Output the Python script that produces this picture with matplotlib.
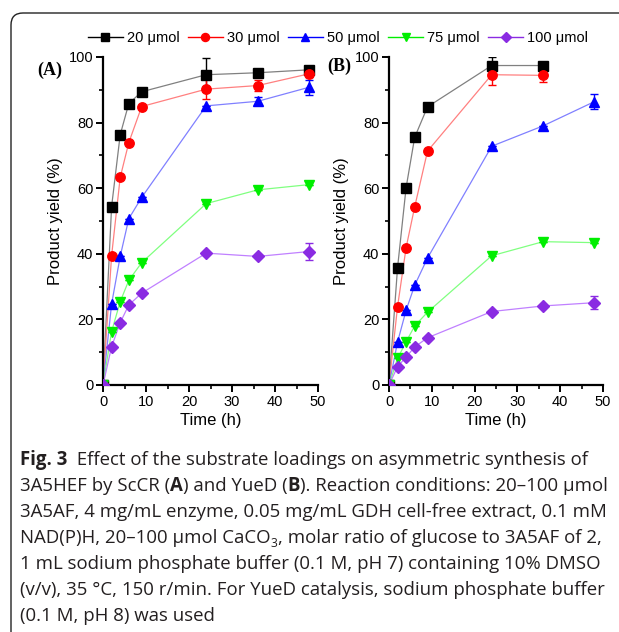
import matplotlib
matplotlib.use("Agg")
import matplotlib.pyplot as plt
from matplotlib.ticker import MultipleLocator
from matplotlib.path import Path
from matplotlib.patches import PathPatch

# ---------------- data ----------------
time_h = [0, 2, 4, 6, 9, 24, 36, 48]
series_labels = ["20 μmol", "30 μmol", "50 μmol", "75 μmol", "100 μmol"]

A_20 = [0, 54.4, 76.3, 85.8, 89.4, 94.6, 95.2, 96.1]
A_30 = [0, 39.4, 63.3, 73.9, 84.9, 90.2, 91.3, 94.9]
A_50 = [0, 24.7, 39.2, 50.7, 57.2, 85.1, 86.5, 90.8]
A_75 = [0, 16.3, 25.4, 31.9, 37.3, 55.3, 59.5, 61.1]
A_100 = [0, 11.7, 19.0, 24.4, 28.0, 40.2, 39.2, 40.7]
A_20_err = [0, 0, 0, 0, 0, 5.0, 0, 0.8]
A_30_err = [0, 0, 0, 0, 0, 3.0, 1.8, 1.0]
A_50_err = [0, 0, 0, 0, 0, 0, 1.2, 2.3]
A_75_err = [0, 0, 0, 0, 0, 0, 0, 0]
A_100_err = [0, 0, 0, 0, 0, 0, 0, 2.5]

time_B20 = [0, 2, 4, 6, 9, 24, 36]
B_20 = [0, 35.8, 60.2, 75.5, 84.8, 97.4, 97.4]
B_30 = [0, 23.9, 41.9, 54.3, 71.3, 94.6, 94.4]
B_50 = [0, 13.1, 22.8, 30.4, 38.7, 72.8, 79.0, 86.4]
B_75 = [0, 8.1, 13.2, 18.0, 22.2, 39.4, 43.7, 43.4]
B_100 = [0, 5.6, 8.5, 11.6, 14.4, 22.4, 24.1, 25.1]
B_20_err = [0, 0, 0, 0, 0, 2.5, 0]
B_30_err = [0, 0, 0, 0, 0, 3.0, 2.0]
B_50_err = [0, 0, 0, 0, 0, 0, 0, 2.2]
B_75_err = [0, 0, 0, 0, 0, 0, 0, 0]
B_100_err = [0, 0, 0, 0, 0, 0, 0, 2.0]

marker_colors = ["#000000", "#ff0000", "#0000ff", "#00ee00", "#8a2be2"]
line_colors = ["#808080", "#ff8080", "#8080ff", "#80ff80", "#c080ff"]
markers = ["s", "o", "^", "v", "D"]
msizes = [6.5, 6.8, 6.8, 6.8, 5.8]

plt.rcParams["font.family"] = ["Liberation Sans", "DejaVu Sans"]

fig = plt.figure(figsize=(6.19, 6.32), dpi=100)
W, H = 619, 632

def ax_rect(l, r, t, b):
    return [l / W, 1 - b / H, (r - l) / W, (b - t) / H]

axA = fig.add_axes(ax_rect(103, 318, 57, 385))
axB = fig.add_axes(ax_rect(389, 603, 57, 385))

panelA = [(time_h, A_20, A_20_err), (time_h, A_30, A_30_err), (time_h, A_50, A_50_err),
          (time_h, A_75, A_75_err), (time_h, A_100, A_100_err)]
panelB = [(time_B20, B_20, B_20_err), (time_B20, B_30, B_30_err), (time_h, B_50, B_50_err),
          (time_h, B_75, B_75_err), (time_h, B_100, B_100_err)]

handles = []
for ax, panel in [(axA, panelA), (axB, panelB)]:
    for i, (x, y, e) in enumerate(panel):
        ax.plot(x, y, color=line_colors[i], lw=0.9, zorder=2)
        ax.errorbar(x, y, yerr=e, fmt="none", ecolor=marker_colors[i], elinewidth=1.0,
                    capsize=3, capthick=1.0, zorder=3)
        ax.plot(x, y, linestyle="none", marker=markers[i], ms=msizes[i],
                mfc=marker_colors[i], mec=marker_colors[i], zorder=4)
    ax.set_xlim(0, 50)
    ax.set_ylim(0, 100)
    ax.xaxis.set_major_locator(MultipleLocator(10))
    ax.xaxis.set_minor_locator(MultipleLocator(5))
    ax.yaxis.set_major_locator(MultipleLocator(20))
    ax.yaxis.set_minor_locator(MultipleLocator(10))
    ax.spines["top"].set_visible(False)
    ax.spines["right"].set_visible(False)
    for s in ["left", "bottom"]:
        ax.spines[s].set_linewidth(1.6)
    ax.tick_params(which="major", direction="out", length=5, width=1.4, labelsize=10.5, pad=2)
    ax.tick_params(which="minor", direction="out", length=3, width=1.2)
    ax.set_xlabel("Time (h)", fontsize=12, labelpad=3)
    ax.set_ylabel("Product yield (%)", fontsize=12, labelpad=4)
    ax.patch.set_alpha(0)

for i in range(5):
    h, = axA.plot([], [], color=marker_colors[i], lw=1.0, marker=markers[i], ms=msizes[i] - 1,
                  mfc=marker_colors[i], mec=marker_colors[i])
    handles.append(h)

fig.legend(handles, series_labels, loc="center", bbox_to_anchor=(338 / W, 1 - 38 / H),
           ncol=5, frameon=False, fontsize=10.5, handlelength=2.4, handletextpad=0.3,
           columnspacing=0.55, borderpad=0)

fig.text(37 / W, 1 - 70 / H, "(A)", fontsize=13, fontweight="bold", family="Liberation Serif",
         ha="left", va="center")
fig.text(327 / W, 1 - 66 / H, "(B)", fontsize=13, fontweight="bold", family="Liberation Serif",
         ha="left", va="center")

# frame with rounded top-left corner
r = 12
verts = [(W + 5, 13), (11 + r, 13), (11, 13), (11, 13 + r), (11, H + 5)]
codes = [Path.MOVETO, Path.LINETO, Path.CURVE3, Path.CURVE3, Path.LINETO]
verts_fig = [(x / W, 1 - y / H) for x, y in verts]
frame = PathPatch(Path(verts_fig, codes), transform=fig.transFigure, fill=False,
                  lw=1.0, edgecolor="#222222")
fig.patches.append(frame)

# caption
cap_font = "Open Sans"
cap_size = 13.4
lines = [
    [("Fig. 3", "bold"), ("  Effect of the substrate loadings on asymmetric synthesis of", "normal")],
    [("3A5HEF by ScCR (", "normal"), ("A", "bold"), (") and YueD (", "normal"), ("B", "bold"),
     ("). Reaction conditions: 20–100 μmol", "normal")],
    [("3A5AF, 4 mg/mL enzyme, 0.05 mg/mL GDH cell-free extract, 0.1 mM", "normal")],
    [("NAD(P)H, 20–100 μmol CaCO", "normal"), ("3", "sub"), (", molar ratio of glucose to 3A5AF of 2,", "normal")],
    [("1 mL sodium phosphate buffer (0.1 M, pH 7) containing 10% DMSO", "normal")],
    [("(v/v), 35 °C, 150 r/min. For YueD catalysis, sodium phosphate buffer", "normal")],
    [("(0.1 M, pH 8) was used", "normal")],
]
y0 = 465
dy = 26.0
fig.canvas.draw()
renderer = fig.canvas.get_renderer()
for li, segs in enumerate(lines):
    x = 20.0
    yb = y0 + li * dy
    for txt, style in segs:
        if style == "sub":
            t = fig.text(x / W, 1 - (yb + 4) / H, txt, fontsize=cap_size * 0.65,
                         family=[cap_font, "DejaVu Sans"], color="#231f20", va="baseline", ha="left")
        else:
            t = fig.text(x / W, 1 - yb / H, txt, fontsize=cap_size,
                         family=[cap_font, "DejaVu Sans"], fontweight=style,
                         color="#231f20", va="baseline", ha="left")
        bb = t.get_window_extent(renderer)
        x += bb.width

fig.savefig("out.png", dpi=100)
